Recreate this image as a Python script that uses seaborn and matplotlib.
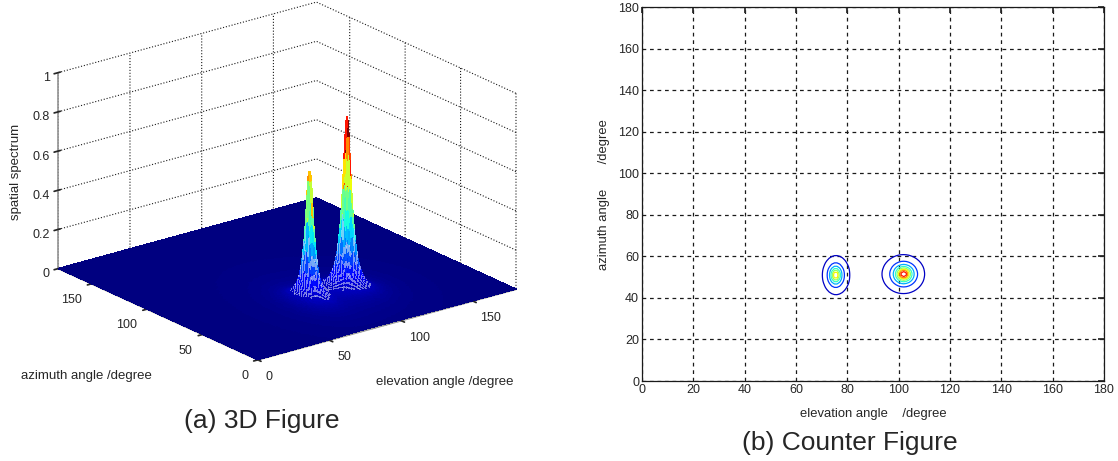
import numpy as np
import matplotlib
matplotlib.use("Agg")
import matplotlib.pyplot as plt
import seaborn as sns

# Scan grid of the spatial spectrum (degrees)
elevation_deg = np.arange(0, 181, 1.0)
azimuth_deg = np.arange(0, 181, 1.0)

# Two detected sources: direction, normalised height and half-widths
peak_elevation = [75.5, 102.0]
peak_azimuth = [51.0, 51.5]
peak_height = [0.71, 0.92]
peak_width_elev = [2.0, 2.8]
peak_width_azim = [3.6, 3.2]

# Tick values
z_ticks = [0, 0.2, 0.4, 0.6, 0.8, 1]
z_tick_labels = ["0", "0.2", "0.4", "0.6", "0.8", "1"]
angle_ticks_3d = [0, 50, 100, 150]
angle_ticks_2d = list(range(0, 181, 20))
contour_levels = [0.1, 0.2, 0.3, 0.4, 0.5, 0.6, 0.7, 0.8]

sns.set_theme(style="white")
plt.rcParams["font.family"] = ["Liberation Sans", "DejaVu Sans"]

E, A = np.meshgrid(elevation_deg, azimuth_deg)
P = np.zeros_like(E)
for e0, a0, h, we, wa in zip(peak_elevation, peak_azimuth, peak_height,
                             peak_width_elev, peak_width_azim):
    P += h / (1.0 + ((E - e0) / we) ** 2 + ((A - a0) / wa) ** 2)

jet = plt.get_cmap("jet")
fig = plt.figure(figsize=(11.18, 4.61), dpi=100)

# ---------------- (a) 3-D surface ----------------
ax3 = fig.add_axes([0.0017, 0.135, 0.5, 0.92], projection="3d", proj_type="ortho")
ax3.view_init(elev=20.7, azim=-127.7)
ax3.set_box_aspect((1, 1, 0.642), zoom=1.16)

vertex_colors = jet(P / P.max())
surf = ax3.plot_surface(E, A, P, facecolors=vertex_colors, shade=False,
                        rstride=1, cstride=1, linewidth=0.25, antialiased=False,
                        clip_on=False)
# faint mesh edges on the flanks of the peaks, face colour elsewhere
face_z = P[:-1, :-1]
ii, jj = np.indices(face_z.shape)
face_rgba = vertex_colors[:-1, :-1].reshape(-1, 4).copy()
flank = ((face_z > 0.05) & (face_z < 0.3) & ((ii + jj) % 2 == 0)).reshape(-1)
edge_rgba = face_rgba.copy()
edge_rgba[flank] = (0.85, 0.87, 0.95, 0.55)
surf.set_edgecolor(edge_rgba)

ax3.set_xlim(0, 180)
ax3.set_ylim(0, 180)
ax3.set_zlim(0, 1)
ax3.set_xticks(angle_ticks_3d)
ax3.set_yticks(angle_ticks_3d)
ax3.set_zticks(z_ticks)
ax3.set_zticklabels(z_tick_labels)
for axis in (ax3.xaxis, ax3.yaxis, ax3.zaxis):
    axis.set_pane_color((1, 1, 1, 1))
    axis._axinfo["grid"].update({"linestyle": ":", "color": "k", "linewidth": 0.8})
    axis.line.set_color("0.6")
ax3.xaxis.set_tick_params(labelsize=9, pad=-2)
ax3.yaxis.set_tick_params(labelsize=9, pad=-2)
ax3.zaxis.set_tick_params(labelsize=9, pad=-5)
for t in ax3.get_xticklabels():
    t.set_ha("left")
for t in ax3.get_yticklabels():
    t.set_ha("right")
for t in ax3.get_zticklabels():
    t.set_ha("right")

fig.text(0.0775, 0.1844, "azimuth angle /degree", fontsize=9.5, ha="center", va="center")
fig.text(0.398, 0.172, "elevation angle /degree", fontsize=9.5, ha="center", va="center")
fig.text(0.0139, 0.6275, "spatial spectrum", fontsize=9.5, rotation=90, ha="center", va="center")
fig.text(0.2343, 0.0874, "(a) 3D Figure", fontsize=19, ha="center", va="center")

# ---------------- (b) contour ----------------
ax2 = fig.add_axes([0.5742, 0.1735, 0.4132, 0.8106])
ax2.contour(E, A, P, levels=contour_levels, cmap="jet", vmin=0.05, vmax=P.max(),
            linewidths=0.9)
ax2.set_xlim(0, 180)
ax2.set_ylim(0, 180)
ax2.set_xticks(angle_ticks_2d)
ax2.set_yticks(angle_ticks_2d)
ax2.grid(True, color="k", linestyle=(0, (3, 3)), linewidth=0.9)
ax2.tick_params(direction="in", labelsize=9, length=4, top=True, right=True,
                labeltop=False, labelright=False, pad=2)
for s in ax2.spines.values():
    s.set_color("k")
    s.set_linewidth(0.9)
ax2.set_xlabel("elevation angle    /degree", fontsize=9.4, labelpad=8.5)
ax2.set_ylabel("azimuth angle       /degree", fontsize=9.4, labelpad=6)
fig.text(0.7603, 0.0397, "(b) Counter Figure", fontsize=19, ha="center", va="center")

fig.savefig("out.png", dpi=100)
